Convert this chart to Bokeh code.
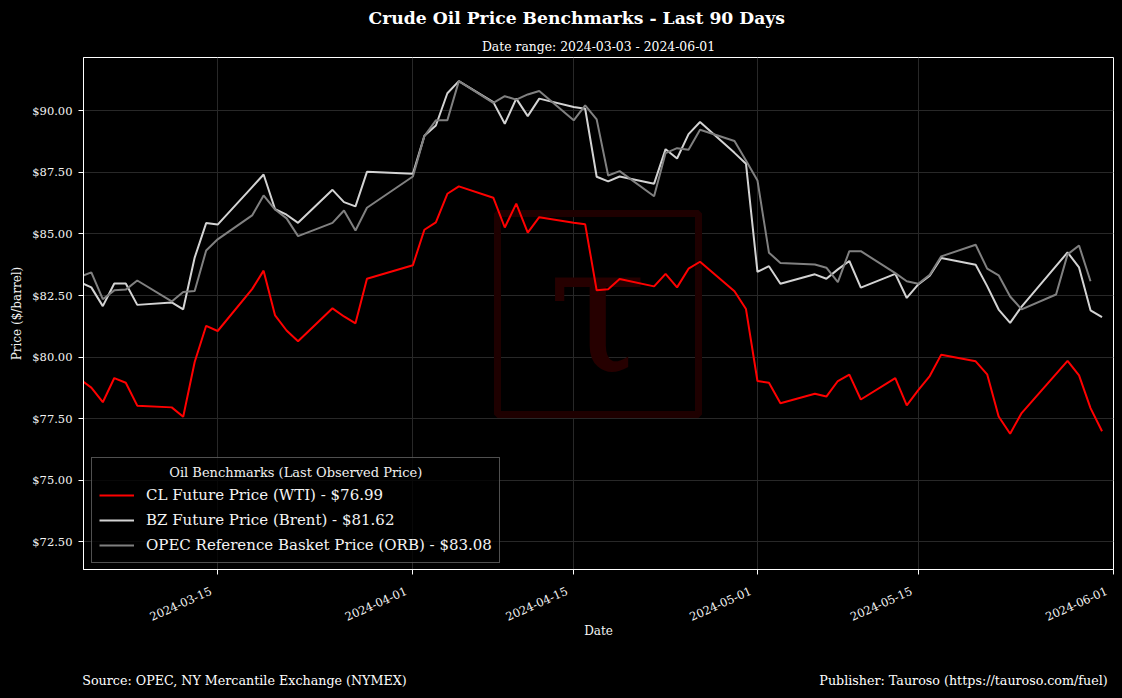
import math
from datetime import datetime

import pandas as pd
from bokeh.core.properties import value
from bokeh.embed import file_html
from bokeh.models import (ColumnDataSource, FixedTicker, LinearAxis,
                          NumeralTickFormatter, Range1d, Title)
from bokeh.plotting import figure
from bokeh.resources import INLINE

# ---------------------------------------------------------------- texts
TITLE = "Crude Oil Price Benchmarks - Last 90 Days"
SUBTITLE = "Date range: 2024-03-03 - 2024-06-01"
X_LABEL = "Date"
Y_LABEL = "Price ($/barrel)"
LEGEND_TITLE = "Oil Benchmarks (Last Observed Price)"
SOURCE = "Source: OPEC, NY Mercantile Exchange (NYMEX)"
PUBLISHER = "Publisher: Tauroso (https://tauroso.com/fuel)"
SERIES_NAMES = ["CL Future Price (WTI)", "BZ Future Price (Brent)",
                "OPEC Reference Basket Price (ORB)"]

# ---------------------------------------------------------------- data
futures_dates = [
    "2024-03-01", "2024-03-04", "2024-03-05", "2024-03-06", "2024-03-07", "2024-03-08",
    "2024-03-11", "2024-03-12", "2024-03-13", "2024-03-14", "2024-03-15",
    "2024-03-18", "2024-03-19", "2024-03-20", "2024-03-21", "2024-03-22",
    "2024-03-25", "2024-03-26", "2024-03-27", "2024-03-28",
    "2024-04-01", "2024-04-02", "2024-04-03", "2024-04-04", "2024-04-05",
    "2024-04-08", "2024-04-09", "2024-04-10", "2024-04-11", "2024-04-12",
    "2024-04-15", "2024-04-16", "2024-04-17", "2024-04-18", "2024-04-19",
    "2024-04-22", "2024-04-23", "2024-04-24", "2024-04-25", "2024-04-26",
    "2024-04-29", "2024-04-30", "2024-05-01", "2024-05-02", "2024-05-03",
    "2024-05-06", "2024-05-07", "2024-05-08", "2024-05-09", "2024-05-10",
    "2024-05-13", "2024-05-14", "2024-05-15", "2024-05-16", "2024-05-17",
    "2024-05-20", "2024-05-21", "2024-05-22", "2024-05-23", "2024-05-24",
    "2024-05-28", "2024-05-29", "2024-05-30", "2024-05-31",
]
wti = [
    79.78, 78.76, 78.17, 79.15, 78.96, 78.03,
    77.96, 77.58, 79.80, 81.27, 81.06,
    82.76, 83.51, 81.69, 81.08, 80.64,
    81.98, 81.65, 81.37, 83.18,
    83.73, 85.17, 85.47, 86.63, 86.93,
    86.47, 85.26, 86.23, 85.05, 85.68,
    85.45, 85.39, 82.71, 82.75, 83.17,
    82.87, 83.38, 82.83, 83.59, 83.87,
    82.67, 81.95, 79.03, 78.96, 78.13,
    78.51, 78.40, 79.03, 79.29, 78.28,
    79.15, 78.04, 78.66, 79.23, 80.10,
    79.83, 79.30, 77.59, 76.89, 77.73,
    79.85, 79.26, 77.93, 76.99,
]
brent = [
    83.45, 82.83, 82.07, 82.99, 82.99, 82.12,
    82.22, 81.94, 84.04, 85.44, 85.38,
    86.90, 87.41, 86.00, 85.78, 85.45,
    86.79, 86.29, 86.12, 87.52,
    87.44, 88.98, 89.40, 90.71, 91.20,
    90.35, 89.47, 90.49, 89.78, 90.49,
    90.15, 90.08, 87.32, 87.13, 87.33,
    87.04, 88.44, 88.06, 89.05, 89.54,
    88.29, 87.85, 83.46, 83.69, 82.98,
    83.36, 83.18, 83.56, 83.90, 82.82,
    83.38, 82.40, 82.95, 83.30, 84.02,
    83.75, 82.88, 81.93, 81.39, 82.05,
    84.25, 83.64, 81.90, 81.62,
]
opec_dates = [
    "2024-03-01", "2024-03-04", "2024-03-05", "2024-03-06", "2024-03-07", "2024-03-08",
    "2024-03-11", "2024-03-12", "2024-03-13", "2024-03-14", "2024-03-15",
    "2024-03-18", "2024-03-19", "2024-03-20", "2024-03-21", "2024-03-22",
    "2024-03-25", "2024-03-26", "2024-03-27", "2024-03-28",
    "2024-04-01", "2024-04-02", "2024-04-03", "2024-04-04", "2024-04-05",
    "2024-04-08", "2024-04-09", "2024-04-10", "2024-04-11", "2024-04-12",
    "2024-04-15", "2024-04-16", "2024-04-17", "2024-04-18", "2024-04-19",
    "2024-04-22", "2024-04-23", "2024-04-24", "2024-04-25", "2024-04-26",
    "2024-04-29", "2024-04-30", "2024-05-01", "2024-05-02", "2024-05-03",
    "2024-05-06", "2024-05-07", "2024-05-08", "2024-05-09", "2024-05-10",
    "2024-05-13", "2024-05-14", "2024-05-15", "2024-05-16", "2024-05-17",
    "2024-05-20", "2024-05-21", "2024-05-22", "2024-05-23", "2024-05-24",
    "2024-05-27", "2024-05-28", "2024-05-29", "2024-05-30",
]
opec = [
    82.90, 83.44, 82.35, 82.71, 82.74, 83.11,
    82.26, 82.64, 82.68, 84.33, 84.78,
    85.75, 86.56, 85.99, 85.63, 84.91,
    85.45, 85.95, 85.14, 86.06,
    87.33, 88.97, 89.61, 89.61, 91.20,
    90.32, 90.59, 90.45, 90.66, 90.80,
    89.61, 90.22, 89.65, 87.37, 87.55,
    86.53, 88.28, 88.48, 88.42, 89.23,
    88.77, 87.98, 87.17, 84.24, 83.82,
    83.76, 83.63, 83.04, 84.30, 84.30,
    83.41, 83.08, 82.98, 83.34, 84.09,
    84.56, 83.59, 83.32, 82.46, 81.94,
    82.54, 84.17, 84.53, 83.08,
]
x_tick_dates = ["2024-03-15", "2024-04-01", "2024-04-15", "2024-05-01",
                "2024-05-15", "2024-06-01"]
y_ticks = [72.5, 75.0, 77.5, 80.0, 82.5, 85.0, 87.5, 90.0]

# ---------------------------------------------------------------- styles / layout
COLORS = ["#ff0000", "#d3d3d3", "#808080"]
FONT = "DejaVu Serif"
X_START = datetime(2024, 3, 3, 7, 40)
X_END = datetime(2024, 6, 1)
Y_START, Y_END = 71.38, 92.16
W, H = 1122, 698
# frame box in canvas pixels
F_L, F_R, F_T, F_B = 83, 1113, 57, 569


def ms(dt):
    return (dt - datetime(1970, 1, 1)).total_seconds() * 1000.0


def xd(px):
    return ms(X_START) + (px - F_L) / (F_R - F_L) * (ms(X_END) - ms(X_START))


def yd(py):
    return Y_END - (py - F_T) / (F_B - F_T) * (Y_END - Y_START)


p = figure(
    width=W, height=H,
    x_axis_type="datetime",
    x_range=Range1d(X_START, X_END), y_range=Range1d(Y_START, Y_END),
    output_backend="svg", toolbar_location=None,
    background_fill_color="black", border_fill_color="black",
    outline_line_color="white", outline_line_width=1,
    min_border_left=F_L, min_border_top=F_T,
    min_border_right=W - F_R, min_border_bottom=H - F_B,
)

# watermark
p.quad(left=[xd(497)], right=[xd(698)], top=[yd(213)], bottom=[yd(414)],
       fill_color=None, line_color="#1e0000", line_width=7)
p.text(x=[xd(597)], y=[yd(308)], text=["τ"], text_font=value(FONT),
       text_font_size="180px", text_color="#260000",
       text_align="center", text_baseline="alphabetic")

src_f = ColumnDataSource(dict(date=pd.to_datetime(futures_dates), wti=wti, brent=brent))
src_o = ColumnDataSource(dict(date=pd.to_datetime(opec_dates), opec=opec))

p.line("date", "wti", source=src_f, color=COLORS[0], line_width=2,
       legend_label=f"{SERIES_NAMES[0]} - ${wti[-1]:.2f}")
p.line("date", "brent", source=src_f, color=COLORS[1], line_width=2,
       legend_label=f"{SERIES_NAMES[1]} - ${brent[-1]:.2f}")
p.line("date", "opec", source=src_o, color=COLORS[2], line_width=2,
       legend_label=f"{SERIES_NAMES[2]} - ${opec[-1]:.2f}")

# axes
x_ticks = [int(ms(datetime.strptime(d, "%Y-%m-%d"))) for d in x_tick_dates]
p.xaxis.ticker = FixedTicker(ticks=x_ticks)
# trailing no-break spaces pull the rotated labels slightly left of the tick
p.xaxis.major_label_overrides = {t: d + "\u00a0\u00a0" for t, d in zip(x_ticks, x_tick_dates)}
p.xaxis.major_label_orientation = math.radians(24)
p.yaxis.ticker = FixedTicker(ticks=y_ticks)
p.yaxis.formatter = NumeralTickFormatter(format="$0.00")

for ax in (p.xaxis, p.yaxis):
    ax.axis_line_color = "white"
    ax.major_tick_line_color = "white"
    ax.minor_tick_line_color = None
    ax.major_tick_out = 5
    ax.major_tick_in = 0
    ax.major_label_text_font = FONT
    ax.major_label_text_font_size = "11.5px"
    ax.major_label_text_color = "#f4f4f4"
    ax.axis_label_text_font = FONT
    ax.axis_label_text_font_size = "12px"
    ax.axis_label_text_font_style = "normal"
    ax.axis_label_text_color = "#f4f4f4"
p.xaxis.axis_label = X_LABEL
p.yaxis.axis_label = Y_LABEL
p.yaxis.major_label_standoff = 6
p.xaxis.major_label_standoff = 13
p.yaxis.axis_label_standoff = 5
p.xaxis.axis_label_standoff = -9

p.grid.grid_line_color = "#282828"
p.grid.grid_line_width = 1

# footer drawn as a label-only axis below the date axis
src_center = 83 + 161
pub_center = 1110 - 147
foot_ticks = [round(xd(src_center)), round(xd(pub_center))]
footer = LinearAxis(
    ticker=FixedTicker(ticks=foot_ticks),
    major_label_overrides={foot_ticks[0]: SOURCE, foot_ticks[1]: PUBLISHER},
    axis_line_color=None, major_tick_line_color=None, minor_tick_line_color=None,
    major_tick_out=0, major_tick_in=0, major_label_standoff=31,
    major_label_text_font=FONT, major_label_text_font_size="12.7px",
    major_label_text_color="white",
)
p.add_layout(footer, "below")

# legend
leg = p.legend[0]
leg.location = (8, 6)
leg.title = "\u00a0" * 17 + LEGEND_TITLE
leg.title_text_font = FONT
leg.title_text_font_size = "13px"
leg.title_text_font_style = "normal"
leg.title_text_color = "#f0f0f0"
leg.title_standoff = 5
leg.label_text_font = FONT
leg.label_text_font_size = "15px"
leg.label_text_color = "#f4f4f4"
leg.glyph_width = 35
leg.glyph_height = 20
leg.label_height = 20
leg.label_standoff = 12
leg.spacing = 5
leg.padding = 7
leg.margin = 0
leg.background_fill_color = "black"
leg.background_fill_alpha = 0.8
leg.border_line_color = "#a0a0a0"
leg.border_line_width = 1

# titles (first added sits closest to the frame)
p.add_layout(Title(text=SUBTITLE, align="center", text_font=FONT, text_font_size="12.4px",
                   text_font_style="normal", text_color="white", standoff=7), "above")
p.add_layout(Title(text=TITLE, align="left", offset=285, text_font=FONT,
                   text_font_size="17.2px", text_font_style="bold", text_color="white",
                   standoff=11), "above")

html = file_html(p, INLINE, title=TITLE)
html = html.replace("</head>", "<style>html,body{background:#000000;}</style></head>", 1)
open("out.html", "w").write(html)
